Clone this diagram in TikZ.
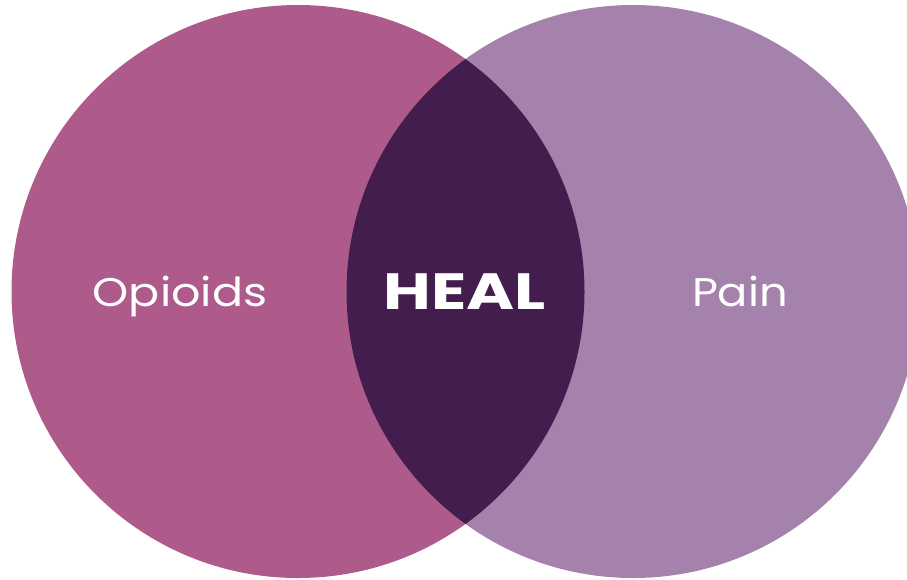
\documentclass[tikz,border=0pt]{standalone}
\usepackage{fontspec}
\setmainfont{Poppins}
\definecolor{opi}{HTML}{AE5A8A}
\definecolor{pai}{HTML}{A582AB}
\definecolor{hea}{HTML}{431D4D}
\tikzset{lbl/.style={text=white, inner sep=0pt, anchor=base}}
\begin{document}
\begin{tikzpicture}[x=1pt,y=-1pt]
\useasboundingbox (0,0) rectangle (907,579);
\begin{scope}
\clip (0,0) rectangle (907,579);
\fill[opi] (298,291.5) circle (286.5);
\fill[pai] (633,291.5) circle (286.5);
\begin{scope}
\clip (298,291.5) circle (286.5);
\fill[hea] (633,291.5) circle (286.5);
\end{scope}
\end{scope}
\node[lbl, font=\fontsize{40}{40}\selectfont] (opioids) at (180,306) {\scalebox{1.15}[1]{Opioids}};
\node[lbl, font=\fontsize{40}{40}\selectfont] (pain) at (740,306) {\scalebox{1.12}[1]{Pain}};
\node[lbl, font=\fontsize{51}{51}\selectfont\bfseries] (heal) at (464.5,309) {\scalebox{1.28}[1]{HEAL}};
\end{tikzpicture}
\end{document}
